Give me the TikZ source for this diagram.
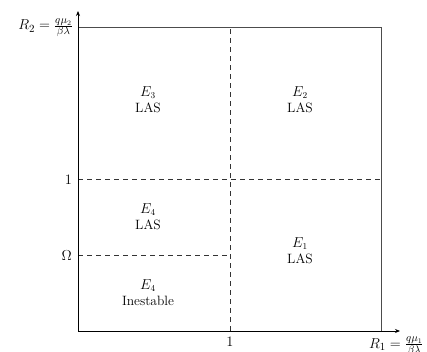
\documentclass[tikz,border=0pt]{standalone}
\usetikzlibrary{arrows.meta}
\begin{document}
\begin{tikzpicture}[x=1pt,y=1pt,
  every node/.style={font=\fontsize{13.5}{16}\selectfont},
  axis/.style={black,line width=0.9pt,-{Stealth[length=5pt,width=4pt]}},
  frame/.style={black!70,line width=1pt},
  dashline/.style={black!80,line width=1pt,dash pattern=on 5pt off 4pt},
  region/.style={align=center,inner sep=0pt},
  tick/.style={inner sep=0pt}]
\useasboundingbox (0,0) rectangle (427,352);
\coordinate (O) at (78,21);
\coordinate (X) at (400,21);
\coordinate (Y) at (78,341);
\coordinate (TL) at (78,324);
\coordinate (TR) at (381,324);
\coordinate (BR) at (381,21);
\coordinate (B1) at (230,21);
\coordinate (T1) at (230,324);
\coordinate (L1) at (78,172);
\coordinate (R1) at (381,172);
\coordinate (LO) at (78,96);
\coordinate (MO) at (230,96);
% frame
\draw[frame] (TL) -- (TR) -- (BR);
% dashed
\draw[dashline] (B1) -- (T1);
\draw[dashline] (L1) -- (R1);
\draw[dashline] (LO) -- (MO);
% axes
\draw[axis] (O) -- (X);
\draw[axis] (O) -- (Y);
% labels
\node[tick,anchor=east,font=\fontsize{15}{18}\selectfont] (r2) at (73,324) {$R_2=\frac{q\mu_2}{\beta\lambda}$};
\node[tick,anchor=east] (one y) at (72,172) {$1$};
\node[tick,anchor=east] (om) at (72,96) {$\Omega$};
\node[tick,anchor=north] (one x) at (230,15) {$1$};
\node[tick,anchor=north west,font=\fontsize{15}{18}\selectfont] (r1) at (369,15) {$R_1=\frac{q\mu_1}{\beta\lambda}$};
% regions
\node[region] (e3) at (148,252.5) {$E_3$\\LAS};
\node[region] (e2) at (300,252.5) {$E_2$\\LAS};
\node[region] (e4a) at (148,135.5) {$E_4$\\LAS};
\node[region] (e1) at (300,101) {$E_1$\\LAS};
\node[region] (e4b) at (148,59.5) {$E_4$\\Inestable};
\end{tikzpicture}
\end{document}
